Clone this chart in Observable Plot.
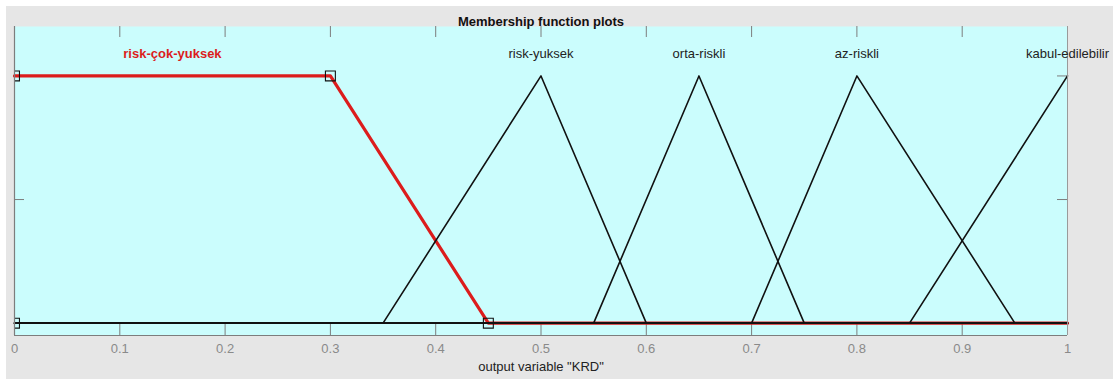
<!DOCTYPE html>
<html>
<head>
<meta charset="utf-8">
<script src="https://cdn.jsdelivr.net/npm/d3@7"></script>
<script src="https://cdn.jsdelivr.net/npm/@observablehq/plot@0.6"></script>
<style>
  html, body { margin: 0; padding: 0; background: #ffffff; }
  #wrap { position: relative; width: 1116px; height: 379px; overflow: hidden; }
  #panel { position: absolute; left: 6px; top: 6px; width: 1107px; height: 373px; background: #e6e6e6; }
  #chart { position: absolute; left: 0; top: 0; }
  #chart svg { background: transparent; }
</style>
</head>
<body>
<div id="wrap"><div id="panel"></div><div id="chart"></div></div>
<script>
// Output variable "KRD": membership functions
const mfNames = ["risk-çok-yuksek", "risk-yuksek", "orta-riskli", "az-riskli", "kabul-edilebilir"];
const mfTypes = ["trapmf", "trimf", "trimf", "trimf", "trimf"];
const mfParams = [
  [0, 0, 0.3, 0.45],
  [0.35, 0.5, 0.6],
  [0.55, 0.65, 0.75],
  [0.7, 0.8, 0.95],
  [0.85, 1, 1]
];
const selectedMf = 0; // highlighted function
const xRange = [0, 1];
const xTicks = [0, 0.1, 0.2, 0.3, 0.4, 0.5, 0.6, 0.7, 0.8, 0.9, 1];
const xTickLabels = ["0", "0.1", "0.2", "0.3", "0.4", "0.5", "0.6", "0.7", "0.8", "0.9", "1"];
const yTicks = [0, 0.5, 1];
const labelLevel = 1.09;

function trimf(x, [a, b, c]) {
  if (x <= a && a < b) return 0;
  if (x < b) return (x - a) / (b - a);
  if (x === b) return 1;
  if (x < c) return (c - x) / (c - b);
  return 0;
}
function trapmf(x, [a, b, c, d]) {
  if (x < a) return 0;
  if (x < b) return (x - a) / (b - a);
  if (x <= c) return 1;
  if (x < d) return (d - x) / (d - c);
  return 0;
}
const mfFn = {trimf, trapmf};

// Polyline vertices of each function over the output range
const curves = mfNames.flatMap((name, i) => {
  const p = mfParams[i];
  const xs = Array.from(new Set([xRange[0], ...p, xRange[1]]))
    .filter(x => x >= xRange[0] && x <= xRange[1])
    .sort((a, b) => a - b);
  return xs.map(x => ({name, i, x, y: mfFn[mfTypes[i]](x, p)}));
});

// Label positions: peak of triangles, plateau centre of trapezoids
const labels = mfNames.map((name, i) => {
  const p = mfParams[i];
  const x = mfTypes[i] === "trapmf" ? (p[1] + p[2]) / 2 : p[1];
  return {name, i, x, y: labelLevel};
});

// Parameter handles of the highlighted function
const sp = mfParams[selectedMf];
const handles = mfTypes[selectedMf] === "trapmf"
  ? [[sp[0], 0], [sp[1], 1], [sp[2], 1], [sp[3], 0]]
  : [[sp[0], 0], [sp[1], 1], [sp[2], 0]];

const font = "'Liberation Sans', Arial, Helvetica, sans-serif";
const red = "#dc1c1c";
const axisGray = "#7d7d7d";

const plot = Plot.plot({
  width: 1116,
  height: 379,
  marginLeft: 14,
  marginRight: 49,
  marginTop: 26,
  marginBottom: 44,
  style: {fontFamily: font, fontSize: "13px", background: "transparent"},
  x: {domain: xRange, axis: null},
  y: {domain: [-0.05, 1.2], axis: null},
  marks: [
    Plot.frame({fill: "#cbfdfd", stroke: null}),
    // inward tick marks
    Plot.tickX(xTicks, {x: d => d, insetTop: 298, stroke: axisGray, strokeWidth: 1}),
    Plot.tickX(xTicks, {x: d => d, insetBottom: 298, stroke: axisGray, strokeWidth: 1}),
    Plot.tickY(yTicks, {y: d => d, insetRight: 1043, stroke: axisGray, strokeWidth: 1}),
    Plot.tickY(yTicks, {y: d => d, insetLeft: 1043, stroke: axisGray, strokeWidth: 1}),
    // highlighted function underneath
    Plot.line(curves.filter(d => d.i === selectedMf), {x: "x", y: "y", stroke: red, strokeWidth: 3.2}),
    Plot.line(curves.filter(d => d.i !== selectedMf), {x: "x", y: "y", z: "name", stroke: "#111", strokeWidth: 1.6}),
    Plot.dot(handles, {x: d => d[0], y: d => d[1], symbol: "square", r: 5.6, stroke: "#111", strokeWidth: 1.1, fill: "none", clip: true}),
    // axis box
    Plot.ruleX([xRange[0]], {stroke: axisGray, strokeWidth: 1.2}),
    Plot.ruleX([xRange[1]], {stroke: "#9a9a9a", strokeWidth: 1}),
    Plot.ruleY([-0.05], {stroke: axisGray, strokeWidth: 1.2}),
    // function names
    Plot.text(labels.filter(d => d.i !== selectedMf), {x: "x", y: "y", text: "name", fill: "#222", fontSize: 13}),
    Plot.text(labels.filter(d => d.i === selectedMf), {x: "x", y: "y", text: "name", fill: red, fontWeight: "bold", fontSize: 13}),
    // x tick labels
    Plot.text(xTicks, {x: d => d, text: (d, i) => xTickLabels[i], frameAnchor: "bottom", dy: 17, fill: "#8a8a8a", fontSize: 13}),
    // title and axis label
    Plot.text(["Membership function plots"], {text: d => d, frameAnchor: "top", dy: -10, fontWeight: "bold", fill: "#111", fontSize: 13}),
    Plot.text(['output variable "KRD"'], {text: d => d, frameAnchor: "bottom", dy: 35, fill: "#222", fontSize: 13})
  ]
});
document.getElementById("chart").appendChild(plot);
</script>
</body>
</html>
